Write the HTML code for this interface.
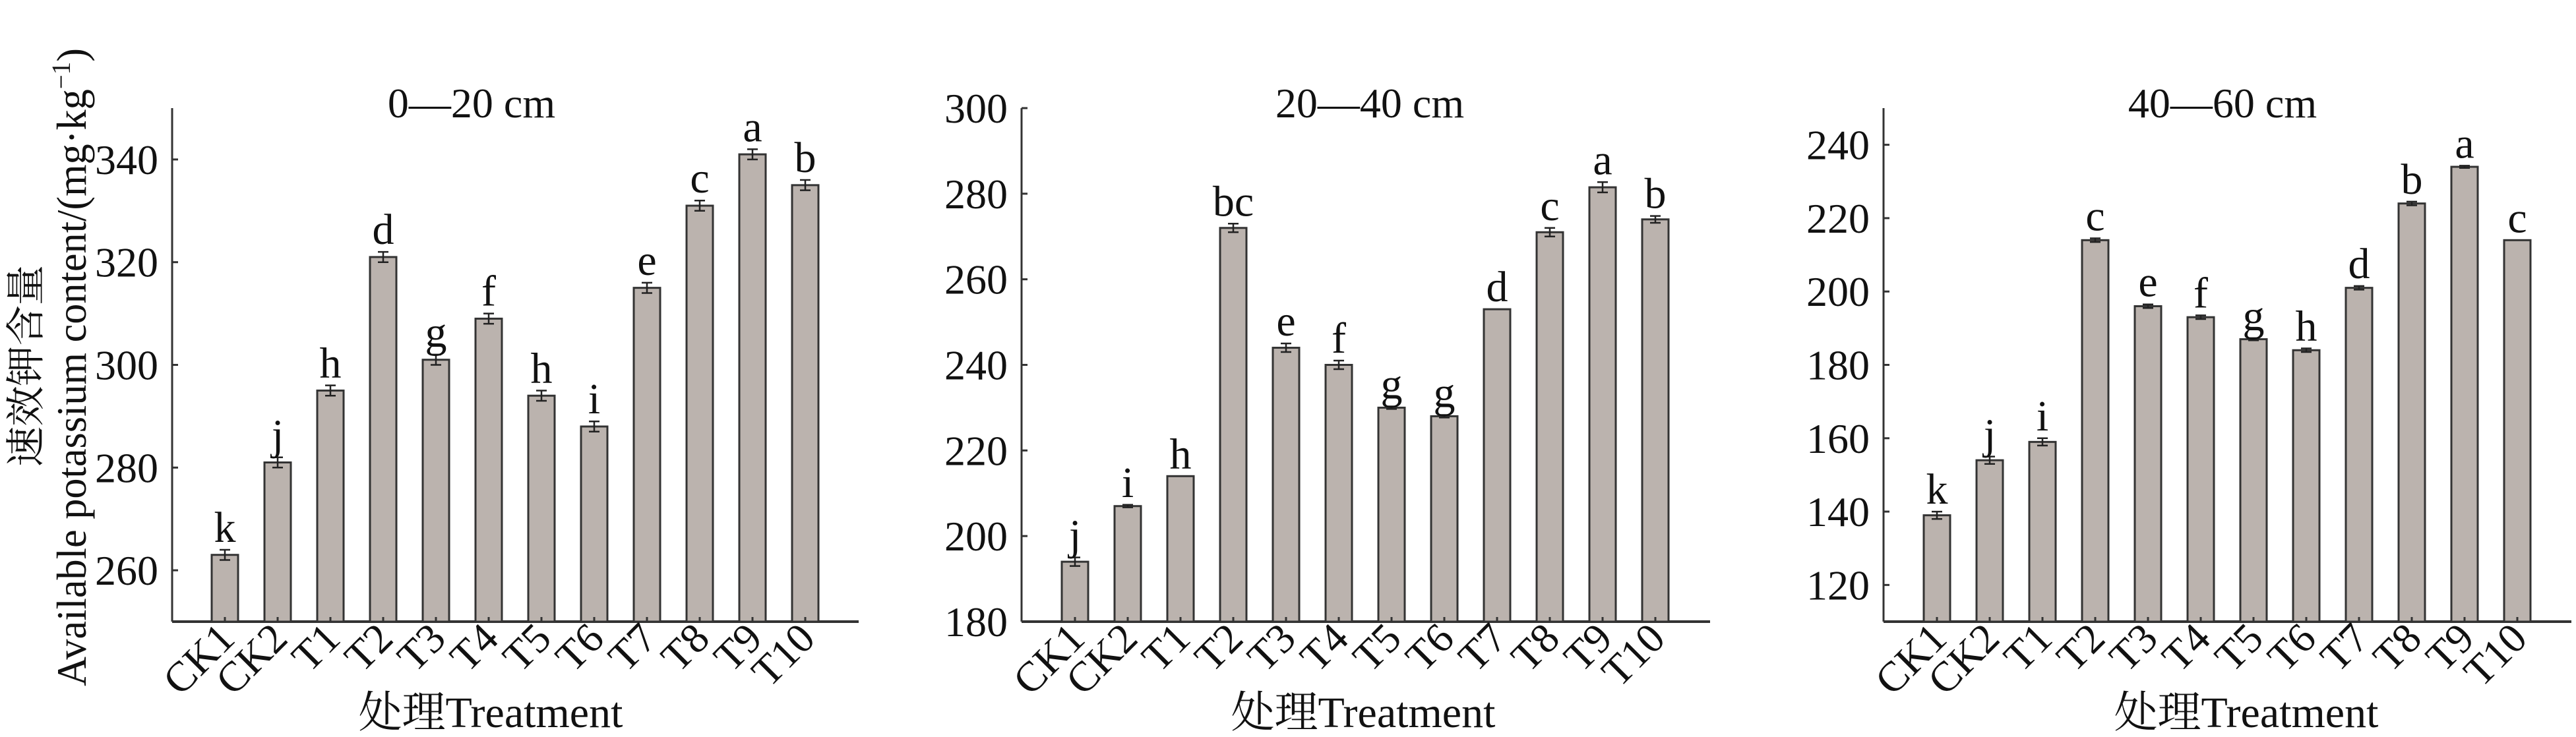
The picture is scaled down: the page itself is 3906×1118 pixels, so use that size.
<!DOCTYPE html>
<html><head><meta charset="utf-8"><style>html,body{margin:0;padding:0;background:#fff}svg{display:block}
text{font-family:"Liberation Serif","DejaVu Serif","Times New Roman","Noto Serif CJK SC",serif}</style></head>
<body>
<svg id="s" xmlns="http://www.w3.org/2000/svg" width="3906" height="1118" viewBox="0 0 3906 1118" fill="#111"></svg>
<script>
(function(){
const S=document.getElementById('s');let h='';
const F=`style="font-family:'Liberation Serif','DejaVu Serif','Times New Roman','Noto Serif CJK SC',serif"`;
const FC=`style="font-family:'Liberation Serif','Noto Serif CJK SC','Noto Sans CJK SC',serif"`;
const labels=['CK1','CK2','T1','T2','T3','T4','T5','T6','T7','T8','T9','T10'];
const panels=[
 {ax:261,x0:341,right:1302,min:250,max:350,ticks:[260,280,300,320,340],title:'0—20 cm',tx:715,xl:744,
  v:[263,281,295,321,301,309,294,288,315,331,341,335],e:[1,1,1,1,1,1,1,1,1,1,1,1],
  l:['k','j','h','d','g','f','h','i','e','c','a','b']},
 {ax:1549,x0:1630,right:2593,min:180,max:300,ticks:[180,200,220,240,260,280,300],title:'20—40 cm',tx:2077,xl:2067,
  v:[194,207,214,272,244,240,230,228,253,271,281.5,274],e:[1,0.3,0,1,1,1,0.3,0.3,0,1,1.2,0.8],
  l:['j','i','h','bc','e','f','g','g','d','c','a','b']},
 {ax:2856,x0:2937,right:3899,min:110,max:250,ticks:[120,140,160,180,200,220,240],title:'40—60 cm',tx:3370,xl:3406,
  v:[139,154,159,214,196,193,187,184,201,224,234,214],e:[1,1,1,0.5,0.5,0.5,0.3,0.5,0.5,0.5,0.3,0],
  l:['k','j','i','c','e','f','g','h','d','b','a','c']}];
const yTop=164,yBot=943;
for(const p of panels){
 const Y=v=>yBot-(v-p.min)/(p.max-p.min)*(yBot-yTop);
 h+=`<line x1="${p.ax}" y1="${yTop}" x2="${p.ax}" y2="${yBot}" stroke="#333" stroke-width="3"/>`;
 h+=`<line x1="${p.ax}" y1="${yBot}" x2="${p.right}" y2="${yBot}" stroke="#333" stroke-width="4"/>`;
 for(const t of p.ticks){const y=Y(t);
  h+=`<line x1="${p.ax}" y1="${y}" x2="${p.ax+9}" y2="${y}" stroke="#333" stroke-width="3"/>`;
  h+=`<text ${F} x="${p.ax-21}" y="${y+22}" font-size="64" text-anchor="end">${t}</text>`;}
 h+=`<text ${F} x="${p.tx}" y="178" font-size="64" text-anchor="middle">${p.title}</text>`;
 p.v.forEach((v,i)=>{const cx=p.x0+i*80,y=Y(v),ey=(p.e[i])*(yBot-yTop)/(p.max-p.min);
  h+=`<rect x="${cx-20}" y="${y}" width="40" height="${yBot-y}" fill="#bbb3ae" stroke="#333" stroke-width="3"/>`;
  h+=`<line x1="${cx}" y1="${yBot}" x2="${cx}" y2="${yBot-7}" stroke="#333" stroke-width="3"/>`;
  if(ey>0){h+=`<path d="M${cx-8} ${y-ey}H${cx+8}M${cx} ${y-ey}V${y+ey}M${cx-8} ${y+ey}H${cx+8}" stroke="#222" stroke-width="2.5" fill="none"/>`;}
  h+=`<text ${F} x="${cx}" y="${y-ey-12}" font-size="66" text-anchor="middle">${p.l[i]}</text>`;
  h+=`<text ${F} transform="translate(${cx+18},972) rotate(-45)" font-size="64" text-anchor="end">${labels[i]}</text>`;
 });
 h+=`<text ${FC} x="${p.xl}" y="1103" font-size="66" text-anchor="middle">处理Treatment</text>`;
}
h+=`<text ${FC} transform="translate(60,555) rotate(-90)" font-size="60" text-anchor="middle" textLength="306" lengthAdjust="spacingAndGlyphs">速效钾含量</text>`;
h+=`<text ${F} transform="translate(130,557) rotate(-90)" font-size="64" text-anchor="middle" textLength="968" lengthAdjust="spacingAndGlyphs">Available potassium content/(mg·kg<tspan font-size="40" dy="-24">−1</tspan><tspan dy="24">)</tspan></text>`;
S.innerHTML=h;
})();
</script>
</body></html>
